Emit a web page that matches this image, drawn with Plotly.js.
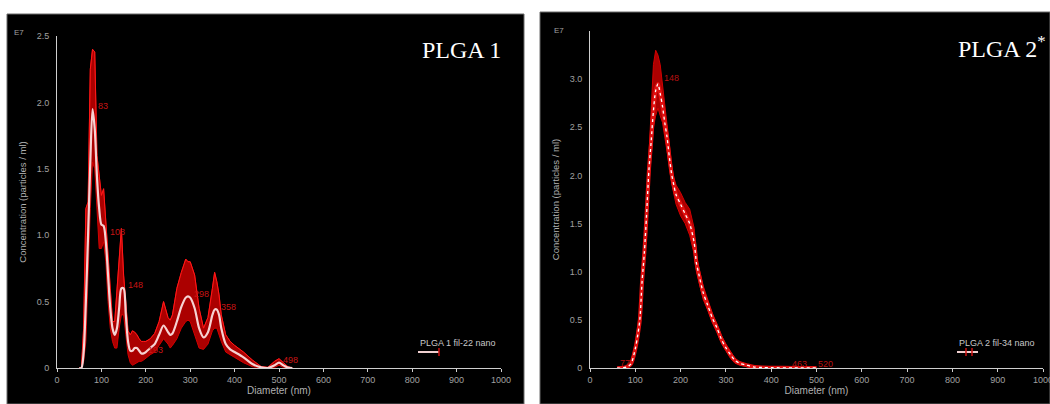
<!DOCTYPE html>
<html>
<head>
<meta charset="utf-8">
<script src="https://cdn.plot.ly/plotly-3.0.1.min.js"></script>
<style>html,body{margin:0;padding:0;background:#fff;}#chart{width:1050px;height:404px;}</style>
</head>
<body>
<div id="chart"></div>
<script>
// ---- Data (concentration in units of 1E7 particles/ml) ----
const diam1 = [50,55,60,65,70,75,80,85,90,95,100,105,110,115,120,125,130,135,140,145,150,155,160,165,170,175,180,185,190,195,200,210,220,230,240,250,255,260,270,280,290,295,300,310,320,330,340,350,355,360,365,370,380,390,400,420,440,460,475,490,500,510,520,530];
const mean1 = [0,0,0.12,0.5,1.0,1.55,1.95,1.8,1.44,1.2,1.08,1.07,0.95,0.7,0.45,0.3,0.25,0.3,0.45,0.6,0.6,0.4,0.2,0.13,0.13,0.15,0.15,0.13,0.11,0.11,0.12,0.15,0.18,0.25,0.32,0.27,0.25,0.26,0.35,0.46,0.53,0.54,0.53,0.45,0.3,0.23,0.27,0.4,0.44,0.44,0.4,0.3,0.18,0.14,0.12,0.08,0.03,0.005,0,0.02,0.04,0.02,0.003,0];
const upper1 = [0,0,0.3,1.2,1.25,2.25,2.4,2.38,1.6,1.42,1.3,1.35,1.1,0.9,0.6,0.35,0.35,0.6,0.85,1.05,0.7,0.5,0.28,0.25,0.28,0.27,0.25,0.22,0.2,0.2,0.2,0.22,0.26,0.35,0.5,0.38,0.36,0.4,0.6,0.72,0.82,0.8,0.8,0.7,0.45,0.3,0.38,0.6,0.72,0.65,0.55,0.4,0.25,0.2,0.17,0.12,0.06,0.01,0.005,0.05,0.07,0.04,0.01,0];
const lower1 = [0,0,0.05,0.2,0.7,1.2,1.55,1.5,1.2,0.9,0.9,0.95,0.8,0.5,0.3,0.2,0.15,0.15,0.3,0.4,0.4,0.25,0.1,0.04,0.02,0.03,0.04,0.05,0.05,0.06,0.07,0.1,0.12,0.17,0.22,0.18,0.15,0.17,0.22,0.3,0.35,0.36,0.35,0.25,0.15,0.14,0.18,0.28,0.3,0.3,0.25,0.2,0.12,0.1,0.08,0.04,0.01,0,0,0.005,0.02,0.005,0,0];

const diam2 = [60,70,80,90,100,105,110,115,120,125,130,135,140,145,150,155,160,165,170,175,180,185,190,200,210,220,230,235,240,250,260,270,280,290,300,310,320,330,345,360,380,400,450,500];
const mean2 = [0,0,0.01,0.04,0.2,0.33,0.5,0.9,1.2,1.6,2.05,2.35,2.67,2.88,2.95,2.85,2.72,2.55,2.4,2.2,2.02,1.9,1.8,1.7,1.6,1.5,1.3,1.09,0.98,0.78,0.65,0.52,0.42,0.3,0.21,0.14,0.08,0.05,0.03,0.012,0.005,0.003,0.001,0];
const upper2 = [0,0,0.02,0.06,0.24,0.4,0.6,0.97,1.3,1.72,2.2,2.75,3.15,3.3,3.25,3.15,2.95,2.7,2.52,2.3,2.12,1.98,1.9,1.82,1.72,1.65,1.45,1.18,1.05,0.85,0.7,0.57,0.46,0.34,0.25,0.17,0.1,0.065,0.04,0.018,0.008,0.005,0.002,0];
const lower2 = [0,0,0,0.02,0.16,0.27,0.42,0.82,1.1,1.48,1.9,2.2,2.5,2.62,2.7,2.62,2.55,2.4,2.25,2.1,1.92,1.8,1.7,1.58,1.5,1.38,1.18,1.0,0.9,0.71,0.6,0.47,0.37,0.26,0.18,0.1,0.05,0.03,0.015,0.005,0.002,0.001,0,0];

const xTicks = [0,100,200,300,400,500,600,700,800,900,1000];
const yTicks1 = [0,0.5,1.0,1.5,2.0,2.5];
const yTickText1 = ['0','0.5','1.0','1.5','2.0','2.5'];
const yTicks2 = [0,0.5,1.0,1.5,2.0,2.5,3.0];
const yTickText2 = ['0','0.5','1.0','1.5','2.0','2.5','3.0'];

const peakNm1 = [80,108,148,193,298,358,498];
const peakTxt1 = ['83','108','148','193','298','358','498'];
const peakNm2 = [150,77,463,520];
const peakTxt2 = ['148','77','463','520'];

const panelTitle1 = 'PLGA 1';
const panelTitle2 = 'PLGA 2<sup>*</sup>';
const legend1 = 'PLGA 1 fil-22 nano';
const legend2 = 'PLGA 2 fil-34 nano';

// ---- helpers ----
function bandTrace(x, up, lo, xa, ya) {
  return {
    x: x.concat(x.slice().reverse()),
    y: up.concat(lo.slice().reverse()),
    xaxis: xa, yaxis: ya, type: 'scatter', mode: 'lines',
    fill: 'toself', fillcolor: 'rgba(190,0,0,0.9)',
    line: {color: '#d40000', width: 1}, hoverinfo: 'skip', showlegend: false
  };
}
function interp(xs, ys, v) {
  for (let i = 0; i < xs.length - 1; i++) {
    if (v >= xs[i] && v <= xs[i+1]) {
      const t = (v - xs[i]) / (xs[i+1] - xs[i]);
      return ys[i] + t * (ys[i+1] - ys[i]);
    }
  }
  return 0;
}

const traces = [
  bandTrace(diam1, upper1, lower1, 'x', 'y'),
  {x: diam1, y: upper1, xaxis:'x', yaxis:'y', mode:'lines', line:{color:'#ff1a1a', width:1}, showlegend:false},
  {x: diam1, y: mean1, xaxis:'x', yaxis:'y', mode:'lines', line:{color:'#f6d2d2', width:2.2, shape:'spline', smoothing:0.8}, showlegend:false},
  bandTrace(diam2, upper2, lower2, 'x2', 'y2'),
  {x: diam2, y: mean2, xaxis:'x2', yaxis:'y2', mode:'lines', line:{color:'#e01010', width:4, shape:'spline', smoothing:0.8}, showlegend:false},
  {x: diam2, y: mean2, xaxis:'x2', yaxis:'y2', mode:'lines', line:{color:'#ffffff', width:1.3, dash:'dot', shape:'spline', smoothing:0.8}, showlegend:false}
];

const tickFont = {family: 'Liberation Sans, Arial, sans-serif', size: 9, color: '#a0a0a0'};
function xAxis(domain, anchor) {
  return {domain: domain, anchor: anchor, range: [0, 1000], tickvals: xTicks, ticktext: xTicks.map(String),
    showgrid: false, zeroline: false, showline: true, linecolor: '#cfcfcf', linewidth: 1,
    ticks: 'outside', ticklen: 3, tickcolor: '#cfcfcf', tickfont: tickFont, ticklabeloverflow: 'allow',
    title: {text: 'Diameter (nm)', font: {family: 'Liberation Sans, Arial, sans-serif', size: 10, color: '#b0b0b0'}, standoff: 2},
    fixedrange: true};
}
function yAxis(domain, anchor, range, vals, txt, standoff) {
  return {domain: domain, anchor: anchor, range: range, tickvals: vals, ticktext: txt,
    showgrid: false, zeroline: false, showline: true, linecolor: '#cfcfcf', linewidth: 1,
    ticks: '', ticklabelstandoff: 5, tickfont: tickFont,
    title: {text: 'Concentration (particles / ml)', font: {family: 'Liberation Sans, Arial, sans-serif', size: 9.5, color: '#b0b0b0'}, standoff: standoff},
    fixedrange: true};
}

const W = 1050, H = 404;
const px = v => v / W, py = v => (H - v) / H;

const annotations = [];
function addText(x, y, text, size, color, family, xanchor) {
  annotations.push({xref:'paper', yref:'paper', x: px(x), y: py(y), text: text, showarrow:false,
    xanchor: xanchor || 'left', yanchor:'middle', font:{size:size, color:color, family:family || 'Liberation Sans, Arial, sans-serif'}});
}
addText(12, 33, 'E7', 8, '#a0a0a0');
addText(552, 31, 'E7', 8, '#a0a0a0');
addText(503, 50, panelTitle1, 24, '#ffffff', 'Liberation Serif, Times New Roman, serif', 'right');
addText(1048, 47, panelTitle2, 24, '#ffffff', 'Liberation Serif, Times New Roman, serif', 'right');
addText(418, 343, legend1, 9, '#c8c8c8');
addText(957, 343, legend2, 9, '#c8c8c8');

peakNm1.forEach((v, i) => annotations.push({xref:'x', yref:'y', x: v, y: interp(diam1, mean1, v), text: peakTxt1[i],
  showarrow:false, xanchor:'left', yanchor:'middle', xshift: 3, yshift: 3, font:{size:9, color:'#c81414', family:'Liberation Sans, Arial, sans-serif'}}));
peakNm2.forEach((v, i) => annotations.push({xref:'x2', yref:'y2', x: v, y: interp(diam2, mean2, v), text: peakTxt2[i],
  showarrow:false, xanchor: i === 0 ? 'left' : 'center', yanchor:'middle', xshift: i === 0 ? 4 : 0, yshift: i === 0 ? 6 : 4,
  font:{size:9, color:'#b81010', family:'Liberation Sans, Arial, sans-serif'}}));

const shapes = [
  {type:'rect', xref:'paper', yref:'paper', x0: px(7), x1: px(524), y0: 0, y1: py(14), fillcolor:'#000', line:{color:'#6a6a6a', width:1}, layer:'below'},
  {type:'rect', xref:'paper', yref:'paper', x0: px(540), x1: 1, y0: 0, y1: py(12), fillcolor:'#000', line:{color:'#6a6a6a', width:1}, layer:'below'},
  // legend symbols
  {type:'line', xref:'paper', yref:'paper', x0: px(418), x1: px(439), y0: py(352), y1: py(352), line:{color:'#f0d0d0', width:2}},
  {type:'line', xref:'paper', yref:'paper', x0: px(439), x1: px(439), y0: py(348), y1: py(356), line:{color:'#d01010', width:1.5}},
  {type:'line', xref:'paper', yref:'paper', x0: px(957), x1: px(978), y0: py(352), y1: py(352), line:{color:'#f0d0d0', width:2}},
  {type:'line', xref:'paper', yref:'paper', x0: px(966), x1: px(966), y0: py(348), y1: py(356), line:{color:'#d01010', width:1.5}},
  {type:'line', xref:'paper', yref:'paper', x0: px(972), x1: px(972), y0: py(348), y1: py(356), line:{color:'#d01010', width:1.5}}
];

const layout = {
  width: W, height: H, margin: {l:0, r:0, t:0, b:0},
  paper_bgcolor: '#ffffff', plot_bgcolor: 'rgba(0,0,0,0)',
  showlegend: false,
  xaxis: xAxis([px(57), px(501)], 'y'),
  yaxis: yAxis([py(368), py(36)], 'x', [0, 2.5], yTicks1, yTickText1, 8),
  xaxis2: xAxis([px(590), px(1043)], 'y2'),
  yaxis2: yAxis([py(368), py(31)], 'x2', [0, 3.5], yTicks2, yTickText2, 8),
  annotations: annotations,
  shapes: shapes
};

Plotly.newPlot('chart', traces, layout, {staticPlot: true, displayModeBar: false});
</script>
</body>
</html>
